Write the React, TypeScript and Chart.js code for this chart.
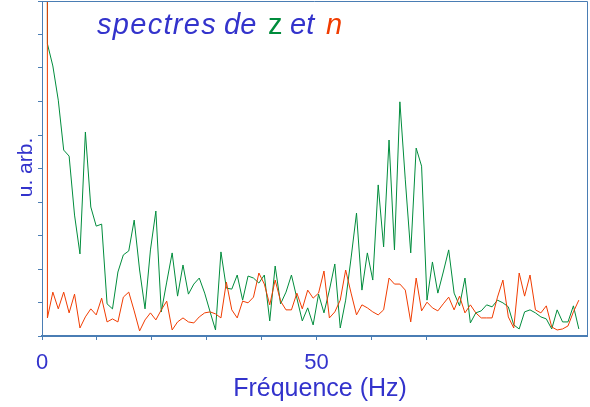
import { useEffect, useRef } from "react";
import { Chart, registerables } from "chart.js";

Chart.register(...registerables);

// ---- data ----
const BIN_HZ = 0.988; // frequency resolution of the spectra (Hz per bin)
const X_MAX = 99.3;
const X_TICKS = [0, 10, 20, 30, 40, 50, 60, 70];
const X_TICK_LABELS: Record<number, string> = { 0: "0", 50: "50" };
const Y_TICKS = [0, 1, 2, 3, 4, 5, 6, 7, 8, 9, 10];

const TITLE_WORDS = ["spectres", "de", "z", "et", "n"];
const X_TITLE = "Fréquence (Hz)";
const Y_TITLE = "u. arb.";

// spectrum of z (green), bin 0 is the (off-scale) DC value
const Z_SPECTRUM = [
  1000, 8.72, 8.06, 7.04, 5.55, 5.37, 3.61, 2.45, 6.09, 3.85,
  3.28, 3.34, 0.96, 0.81, 1.91, 2.42, 2.54, 3.46, 1.97, 0.81,
  2.57, 3.73, 0.72, 1.61, 2.48, 1.19, 2.12, 1.25, 1.55, 1.73,
  1.28, 0.72, 0.18, 2.51, 1.43, 1.4, 1.82, 1.07, 1.79, 1.73,
  1.58, 1.82, 0.45, 2.09, 0.96, 1.31, 1.82, 1.13, 0.45, 0.84,
  0.33, 1.25, 0.69, 1.37, 2.15, 0.24, 1.07, 2.33, 3.67, 1.37,
  2.48, 1.67, 4.51, 2.66, 5.85, 2.57, 6.99, 4.66, 2.48, 5.61,
  5.07, 1.07, 2.21, 1.28, 1.91, 2.57, 1.28, 0.9, 1.73, 0.39,
  0.69, 0.75, 0.93, 0.87, 1.07, 0.99, 0.87, 0.33, 0.21, 0.72,
  0.78, 0.69, 0.57, 0.51, 0.21, 0.78, 0.42, 0.42, 0.9, 0.21,
];

// spectrum of n (red)
const N_SPECTRUM = [
  1000, 0.54, 1.31, 0.81, 1.31, 0.69, 1.25, 0.24, 0.57, 0.81,
  0.63, 1.13, 0.42, 0.51, 0.42, 1.16, 1.31, 0.75, 0.15, 0.48,
  0.69, 0.48, 0.78, 1.04, 0.18, 0.42, 0.54, 0.42, 0.39, 0.57,
  0.69, 0.72, 0.66, 0.54, 1.61, 0.78, 0.54, 1.04, 0.99, 1.16,
  1.88, 1.55, 0.93, 1.67, 1.04, 0.78, 0.78, 1.28, 0.81, 1.37,
  1.13, 1.28, 1.94, 0.54, 0.72, 1.07, 1.97, 1.28, 0.63, 0.93,
  0.84, 0.72, 0.63, 0.78, 1.73, 1.55, 1.55, 1.37, 0.42, 1.73,
  0.75, 1.01, 0.84, 0.75, 0.96, 1.16, 0.78, 1.19, 0.69, 0.93,
  0.69, 0.54, 0.54, 0.54, 1.16, 1.67, 0.57, 0.24, 1.88, 1.19,
  1.82, 0.78, 0.69, 0.9, 0.27, 0.18, 0.21, 0.3, 0.72, 1.07,
];

// ---- styles ----
const FONT = '"Liberation Sans", Arial, sans-serif';
const TEXT_BLUE = "#3333cc";
const AXIS_BLUE = "#4a7db4";
const GREEN = "#008c3c";
const RED = "#f03c00";

const decorPlugin = {
  id: "decor",
  afterDraw(chart: any) {
    const { ctx, chartArea } = chart;
    const { left, right, top, bottom } = chartArea;
    ctx.save();
    // top and right frame
    ctx.strokeStyle = AXIS_BLUE;
    ctx.lineWidth = 1;
    ctx.beginPath();
    ctx.moveTo(left, top + 0.5);
    ctx.lineTo(right + 0.5, top + 0.5);
    ctx.lineTo(right + 0.5, bottom);
    ctx.stroke();

    // title
    const styles = [
      { color: TEXT_BLUE, italic: true, x: 97, spacing: "1.3px" },
      { color: TEXT_BLUE, italic: true, x: 224, spacing: "0px" },
      { color: GREEN, italic: false, x: 268, spacing: "0px" },
      { color: TEXT_BLUE, italic: true, x: 290, spacing: "0px" },
      { color: RED, italic: true, x: 326, spacing: "0px" },
    ];
    ctx.textBaseline = "alphabetic";
    ctx.textAlign = "left";
    TITLE_WORDS.forEach((w, i) => {
      const s = styles[i];
      ctx.font = `${s.italic ? "italic " : ""}29px ${FONT}`;
      ctx.fillStyle = s.color;
      (ctx as any).letterSpacing = s.spacing;
      ctx.fillText(w, s.x, 34);
    });
    (ctx as any).letterSpacing = "0px";

    // x title
    ctx.font = `25px ${FONT}`;
    ctx.fillStyle = TEXT_BLUE;
    ctx.textAlign = "center";
    ctx.fillText(X_TITLE, 320, 396);

    // y title
    ctx.font = `21px ${FONT}`;
    ctx.translate(32, 167.5);
    ctx.rotate(-Math.PI / 2);
    ctx.textAlign = "center";
    ctx.fillText(Y_TITLE, 0, 0);
    ctx.restore();
  },
};

export default function App() {
  const ref = useRef<HTMLCanvasElement | null>(null);

  useEffect(() => {
    if (!ref.current) return;
    const freqs = Z_SPECTRUM.map((_, i) => i * BIN_HZ);
    const chart = new Chart(ref.current, {
      type: "line",
      data: {
        datasets: [
          {
            label: "n",
            data: N_SPECTRUM.map((v, i) => ({ x: freqs[i], y: v })),
            borderColor: RED,
            borderWidth: 1,
            pointRadius: 0,
            tension: 0,
            fill: false,
          },
          {
            label: "z",
            data: Z_SPECTRUM.map((v, i) => ({ x: freqs[i], y: v })),
            borderColor: GREEN,
            borderWidth: 1,
            pointRadius: 0,
            tension: 0,
            fill: false,
          },
        ],
      },
      options: {
        responsive: false,
        animation: false,
        devicePixelRatio: 1,
        layout: { padding: { left: 0, right: 3, top: 1, bottom: 0 } },
        plugins: { legend: { display: false }, tooltip: { enabled: false } },
        scales: {
          x: {
            type: "linear",
            min: 0,
            max: X_MAX,
            afterBuildTicks: (s: any) => {
              s.ticks = X_TICKS.map((v) => ({ value: v }));
            },
            afterFit: (s: any) => {
              s.height = 71;
              s.paddingLeft = 0;
              s.paddingRight = 0;
              s.paddingTop = 0;
              s.paddingBottom = 0;
            },
            ticks: {
              autoSkip: false,
              maxRotation: 0,
              padding: 10,
              color: TEXT_BLUE,
              font: { family: FONT, size: 22 },
              callback: (v: any) => X_TICK_LABELS[v as number] ?? "",
            },
            grid: {
              drawOnChartArea: false,
              drawTicks: true,
              tickLength: 4,
              color: AXIS_BLUE,
            },
            border: { display: true, color: AXIS_BLUE, width: 2 },
          },
          y: {
            type: "linear",
            min: 0,
            max: 10,
            afterBuildTicks: (s: any) => {
              s.ticks = Y_TICKS.map((v) => ({ value: v }));
            },
            afterFit: (s: any) => {
              s.width = 42;
              s.paddingLeft = 0;
              s.paddingRight = 0;
              s.paddingTop = 0;
              s.paddingBottom = 0;
            },
            ticks: { display: true, padding: 0, font: { size: 1 }, callback: () => "" },
            grid: {
              drawOnChartArea: false,
              drawTicks: true,
              tickLength: 4,
              color: AXIS_BLUE,
            },
            border: { display: true, color: AXIS_BLUE, width: 1 },
          },
        },
      },
      plugins: [decorPlugin],
    });
    return () => chart.destroy();
  }, []);

  return (
    <div style={{ position: "absolute", left: 0, top: 0, width: 590, height: 407, background: "#fff" }}>
      <canvas ref={ref} width={590} height={407} style={{ width: 590, height: 407 }} />
    </div>
  );
}
